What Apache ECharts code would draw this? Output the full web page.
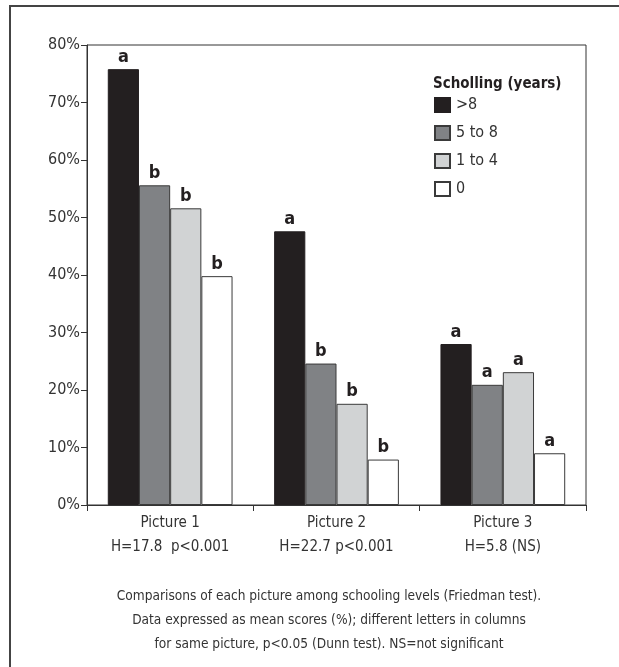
<!DOCTYPE html>
<html>
<head>
<meta charset="utf-8">
<script src="https://cdn.jsdelivr.net/npm/echarts@6/dist/echarts.min.js"></script>
<style>
html,body{margin:0;padding:0;background:#fff;}
#chart{width:619px;height:667px;}
</style>
</head>
<body>
<div id="chart"></div>
<script>
// ---- data ----
var categories = ['Picture 1', 'Picture 2', 'Picture 3'];
var subLabels = ['H=17.8  p<0.001', 'H=22.7 p<0.001', 'H=5.8 (NS)'];
var seriesNames = ['>8', '5 to 8', '1 to 4', '0'];
var valuesOver8 = [75.8, 47.6, 28.0];
var values5to8 = [55.6, 24.6, 20.9];
var values1to4 = [51.6, 17.6, 23.1];
var values0 = [39.8, 7.9, 9.0];
var lettersOver8 = ['a', 'a', 'a'];
var letters5to8 = ['b', 'b', 'a'];
var letters1to4 = ['b', 'b', 'a'];
var letters0 = ['b', 'b', 'a'];
var yTicks = [0, 10, 20, 30, 40, 50, 60, 70, 80];
var legendTitle = 'Scholling (years)';
var captionLines = [
  'Comparisons of each picture among schooling levels (Friedman test).',
  'Data expressed as mean scores (%); different letters in columns',
  'for same picture, p<0.05 (Dunn test). NS=not significant'
];

// ---- styles ----
var FONT = "'Liberation Sans Narrow', 'DejaVu Sans Condensed', 'Roboto', sans-serif";
var fills = ['#231f20', '#808285', '#d1d3d4', '#ffffff'];
var borders = ['#231f20', '#3a3a3a', '#3a3a3a', '#3a3a3a'];
var allValues = [valuesOver8, values5to8, values1to4, values0];
var allLetters = [lettersOver8, letters5to8, letters1to4, letters0];

var series = seriesNames.map(function (name, i) {
  return {
    name: name,
    type: 'bar',
    barGap: '0%',
    barCategoryGap: '25%',
    data: allValues[i],
    itemStyle: { color: fills[i], borderColor: borders[i], borderWidth: 1 },
    label: {
      show: true,
      position: 'top',
      distance: 3,
      formatter: function (p) { return allLetters[i][p.dataIndex]; },
      fontFamily: FONT,
      fontWeight: 'bold',
      fontSize: 18,
      color: '#231f20'
    }
  };
});

var chart = echarts.init(document.getElementById('chart'), null, { renderer: 'canvas' });
chart.setOption({
  animation: false,
  backgroundColor: '#fff',
  textStyle: { fontFamily: FONT },
  grid: {
    left: 87, right: 33, top: 45, bottom: 162,
    show: true, borderColor: '#333', borderWidth: 1, backgroundColor: 'transparent'
  },
  legend: {
    orient: 'vertical',
    left: 434,
    top: 97,
    padding: 0,
    icon: 'rect',
    itemWidth: 15,
    itemHeight: 14,
    itemGap: 12,
    data: seriesNames,
    textStyle: { fontFamily: FONT, fontSize: 16, color: '#333', padding: [0, 0, 0, 1] }
  },
  xAxis: {
    type: 'category',
    data: categories,
    axisLine: { lineStyle: { color: '#333', width: 1 } },
    axisTick: { show: true, length: 6, inside: false, alignWithLabel: false, lineStyle: { color: '#333' } },
    axisLabel: {
      interval: 0,
      margin: 6,
      fontFamily: FONT,
      fontSize: 15,
      lineHeight: 24,
      color: '#333',
      formatter: function (v, idx) { return v + '\n' + subLabels[idx]; }
    }
  },
  yAxis: {
    type: 'value',
    min: yTicks[0],
    max: yTicks[yTicks.length - 1],
    interval: 10,
    splitLine: { show: false },
    axisLine: { show: true, lineStyle: { color: '#333', width: 1 } },
    axisTick: { show: true, length: 6, lineStyle: { color: '#333' } },
    axisLabel: {
      margin: 7,
      fontFamily: FONT,
      fontSize: 16,
      color: '#333',
      formatter: '{value}%'
    }
  },
  graphic: [
    {
      type: 'rect',
      shape: { x: 10, y: 6, width: 700, height: 700 },
      style: { fill: 'none', stroke: '#444', lineWidth: 2 },
      silent: true
    },
    {
      type: 'text',
      left: 433,
      top: 77,
      style: {
        text: legendTitle,
        fontFamily: FONT,
        fontWeight: 'bold',
        fontSize: 15,
        fill: '#231f20'
      }
    },
    {
      type: 'text',
      x: 329,
      y: 584,
      style: {
        text: captionLines.join('\n'),
        fontFamily: FONT,
        fontSize: 13.6,
        lineHeight: 24,
        align: 'center',
        verticalAlign: 'top',
        fill: '#333'
      }
    }
  ],
  series: series
});
</script>
</body>
</html>
